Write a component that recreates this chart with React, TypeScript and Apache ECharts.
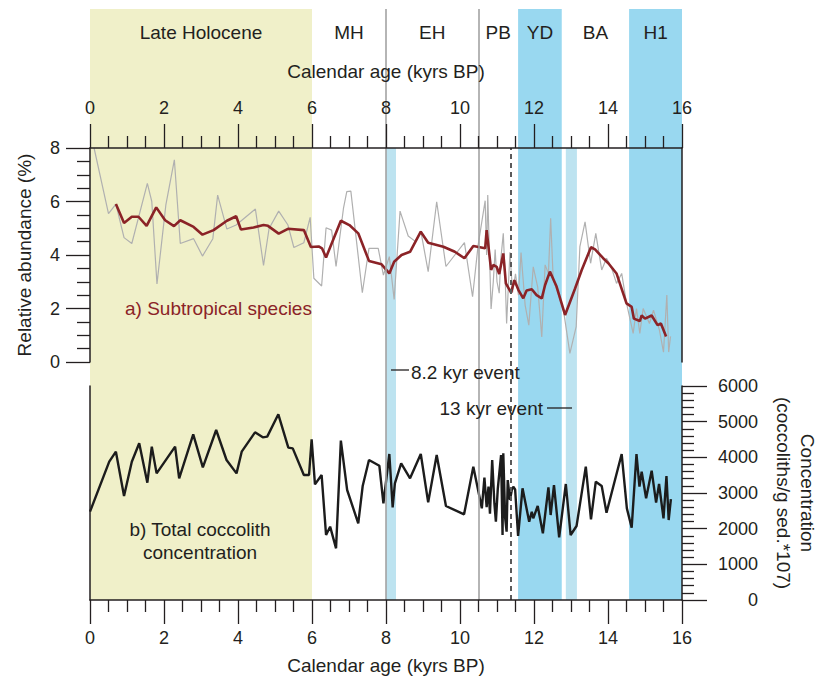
import React, { useEffect, useRef } from "react";
import * as echarts from "echarts";

// ---------- data ----------
// a) Subtropical species, raw relative abundance (%)
const rawAge = [
  0.11, 0.5, 0.7, 0.92, 1.13, 1.55, 1.67, 1.81, 2.05, 2.28, 2.44, 2.8, 3.04, 3.32, 3.45, 3.7, 3.95, 4.47, 4.69, 4.84,
  5.1, 5.35, 5.51, 5.78, 5.95, 6.05, 6.26, 6.38, 6.53, 6.65, 6.85, 6.94, 7.05, 7.36, 7.54, 7.79, 7.93, 8.09, 8.22,
  8.38, 8.6, 8.8, 8.94, 9.14, 9.37, 9.62, 9.86, 10.12, 10.34, 10.49, 10.68, 10.72, 10.75, 10.84, 10.9, 10.95, 11.0,
  11.06, 11.1, 11.17, 11.22, 11.26, 11.35, 11.42, 11.5, 11.58, 11.65, 11.76, 11.86, 11.98, 12.1, 12.21, 12.3, 12.39,
  12.45, 12.52, 12.62, 12.8, 12.97, 13.14, 13.24, 13.38, 13.53, 13.67, 13.83, 13.96, 14.1, 14.23, 14.37, 14.5, 14.68,
  14.77, 14.86, 14.95, 15.12, 15.23, 15.39, 15.5, 15.59, 15.64, 15.69,
];
const rawVal = [
  8.0, 5.55, 5.9, 4.65, 4.43, 6.68, 6.0, 2.92, 5.87, 7.56, 4.43, 4.61, 3.96, 4.61, 6.24, 4.97, 5.12, 5.72, 3.61, 4.99,
  5.64, 5.12, 4.28, 4.46, 5.41, 3.13, 2.84, 5.02, 4.93, 3.57, 5.74, 6.37, 6.39, 2.59, 4.25, 4.25, 3.25, 3.94, 2.34,
  5.64, 4.71, 4.5, 4.9, 3.38, 5.99, 3.57, 4.0, 4.46, 2.44, 4.37, 6.03, 4.0, 6.24, 1.98, 3.0, 4.2, 3.0,
  2.57, 3.8, 4.81, 3.2, 1.44, 4.1, 2.6, 3.3, 2.5, 4.09, 2.13, 1.38, 3.56, 2.8, 0.94, 3.63, 3.31,
  5.37, 3.06, 2.7, 1.9, 0.32, 1.32, 4.31, 5.24, 3.69, 4.81, 3.44, 3.88, 3.5, 2.94, 3.31, 2.2, 1.07,
  2.0, 1.07, 2.0, 1.44, 1.94, 1.19, 0.37, 2.5, 0.37, 0.96,
];

// a) Subtropical species, smoothed (%)
const smoothAge = [
  0.7, 0.92, 1.13, 1.31, 1.53, 1.79, 2.03, 2.27, 2.44, 2.8, 3.04, 3.34, 3.7, 3.95, 4.08, 4.42, 4.69, 4.81, 5.1, 5.35,
  5.78, 5.97, 6.18, 6.27, 6.38, 6.78, 7.01, 7.25, 7.54, 7.88, 8.09, 8.22, 8.42, 8.65, 8.94, 9.14, 9.55, 9.86, 10.12,
  10.36, 10.68, 10.72, 10.84, 10.9, 10.99, 11.06, 11.17, 11.24, 11.38, 11.47, 11.58, 11.71, 11.8, 11.94, 12.07, 12.21,
  12.3, 12.43, 12.61, 12.84, 13.11, 13.29, 13.54, 13.65, 13.87, 14.01, 14.23, 14.5, 14.64, 14.7, 14.86, 14.91, 15.0,
  15.18, 15.34, 15.43, 15.57,
];
const smoothVal = [
  5.91, 5.2, 5.43, 5.43, 5.09, 5.78, 5.3, 5.08, 5.3, 5.05, 4.76, 4.93, 5.28, 5.45, 4.95, 5.03, 5.12, 5.09, 4.8, 4.98,
  4.93, 4.3, 4.32, 4.25, 3.91, 5.28, 5.12, 4.81, 3.78, 3.65, 3.31, 3.75, 4.0, 4.12, 4.87, 4.46, 4.31, 4.12, 3.88,
  4.34, 4.25, 4.93, 3.44, 3.63, 3.56, 3.29, 4.06, 2.94, 2.59, 3.06, 2.69, 2.38, 2.67, 2.72, 2.5, 2.38,
  2.88, 3.38, 2.82, 1.76, 2.75, 3.44, 4.29, 4.21, 3.88, 3.69, 3.31, 2.19, 2.06, 1.62, 1.53, 1.74, 1.62,
  1.74, 1.38, 1.44, 0.95,
];

// b) Total coccolith concentration (coccoliths/g sed. *10^7)
const concAge = [
  0.0, 0.52, 0.7, 0.92, 1.13, 1.33, 1.55, 1.67, 1.8, 2.3, 2.41, 2.79, 3.05, 3.41, 3.69, 3.96, 4.1, 4.46, 4.67, 4.79,
  5.09, 5.36, 5.48, 5.78, 5.92, 5.99, 6.08, 6.26, 6.38, 6.49, 6.65, 6.78, 6.95, 7.25, 7.37, 7.54, 7.82, 7.93, 8.09,
  8.18, 8.24, 8.41, 8.65, 8.94, 9.14, 9.37, 9.62, 10.11, 10.36, 10.59, 10.66, 10.72, 10.77, 10.81, 10.87, 10.93,
  10.97, 11.02, 11.11, 11.15, 11.17, 11.22, 11.26, 11.29, 11.35, 11.4, 11.44, 11.49, 11.57, 11.69, 11.87, 11.94,
  11.98, 12.1, 12.24, 12.39, 12.45, 12.54, 12.68, 12.86, 12.99, 13.15, 13.4, 13.54, 13.67, 13.83, 13.96, 14.37,
  14.51, 14.64, 14.77, 14.85, 14.91, 15.03, 15.18, 15.3, 15.38, 15.5, 15.58, 15.64, 15.7,
];
const concVal = [
  2476, 3878, 4159, 2916, 3878, 4393, 3290, 4299, 3551, 4299, 3411, 4645, 3720, 4766, 3925, 3551, 4159, 4701, 4561, 4580,
  5206, 4271, 4252, 3505, 3505, 4505, 3243, 3505, 1822, 2056, 1449, 4467, 3084, 2150, 3196, 3925, 3766, 2710, 4093,
  2598, 3271, 3832, 3411, 4093, 2738, 4065, 2636, 2402, 3738, 2570, 3430, 2600, 3177, 2420, 3925, 2700,
  2196, 3100, 4065, 1822, 4112, 2300, 1915, 3364, 2804, 3084, 3177, 3100, 1800, 3131, 2196, 2476,
  2289, 2636, 1869, 3159, 2383, 3224, 1757, 3252, 1822, 2074, 3738, 2261, 3317, 3196, 2448, 4093,
  2570, 2028, 4093, 3177, 3598, 2851, 3626, 2729, 3252, 2289, 3476, 2242, 2831,
];

// climate periods (kyrs BP)
const periodNames = ["Late Holocene", "MH", "EH", "PB", "YD", "BA", "H1"];
const periodStart = [0, 6, 8, 10.5, 11.57, 12.75, 14.57];
const periodEnd = [6, 8, 10.5, 11.57, 12.75, 14.57, 16];

// short cold events (kyrs BP)
const eventStart = [8.0, 12.86];
const eventEnd = [8.27, 13.16];
const boundaryAges = [8, 10.5];
const event13Age = [11.37];

// ---------- styles ----------
const INK = "#231f20";
const FONT = '"Liberation Sans", Arial, Helvetica, sans-serif';
const periodFill: Record<string, string> = {
  "Late Holocene": "#f0f0c9",
  YD: "#99d8f0",
  H1: "#99d8f0",
};
const EVENT_FILL = "#bde3f0";

export default function App() {
  const ref = useRef<HTMLDivElement>(null);

  useEffect(() => {
    if (!ref.current) return;
    const chart = echarts.init(ref.current, undefined, { renderer: "svg" });

    const tickLabel = { color: INK, fontSize: 18, fontFamily: FONT };
    const lineOnly = (gridIndex: number, position: string) => ({
      gridIndex,
      type: "value",
      position,
      min: 0,
      max: 1,
      axisLine: { show: true, onZero: false, lineStyle: { color: INK, width: 1.5 } },
      axisTick: { show: false },
      axisLabel: { show: false },
      splitLine: { show: false },
      z: 5,
    });
    const ageAxis = (gridIndex: number, position: string, margin: number) => ({
      gridIndex,
      type: "value",
      position,
      min: 0,
      max: 16,
      interval: 2,
      axisLine: { show: true, onZero: false, lineStyle: { color: INK, width: 1.5 } },
      axisTick: { show: true, inside: false, length: 24, lineStyle: { color: INK, width: 1.3 } },
      minorTick: { show: true, splitNumber: 4, length: 12, lineStyle: { color: INK, width: 1.3 } },
      axisLabel: { ...tickLabel, margin, showMinLabel: true, showMaxLabel: true },
      splitLine: { show: false },
      minorSplitLine: { show: false },
      z: 5,
    });
    const hidden = (gridIndex: number, max: number) => ({
      gridIndex,
      type: "value",
      min: 0,
      max,
      show: false,
    });

    const txt = (text: string, x: number, y: number, extra: any = {}) => ({
      type: "text",
      x,
      y,
      z: 20,
      silent: true,
      ...extra,
      style: {
        text,
        font: `19px ${FONT}`,
        fill: INK,
        align: "center",
        verticalAlign: "middle",
        ...(extra.style || {}),
      },
    });

    const option: any = {
      animation: false,
      grid: [
        { left: 90, top: 148, width: 592, height: 214, outerBoundsMode: "none" },
        { left: 90, top: 386, width: 592, height: 214, outerBoundsMode: "none" },
        { left: 90, top: 9, width: 592, height: 591, outerBoundsMode: "none" },
        { left: 90, top: 148, width: 592, height: 452, outerBoundsMode: "none" },
      ],
      xAxis: [ageAxis(0, "top", 31), ageAxis(1, "bottom", 29), hidden(2, 16), hidden(3, 16)],
      yAxis: [
        {
          gridIndex: 0,
          type: "value",
          position: "left",
          min: 0,
          max: 8,
          interval: 2,
          axisLine: { show: true, onZero: false, lineStyle: { color: INK, width: 1.5 } },
          axisTick: { show: true, inside: false, length: 24, lineStyle: { color: INK, width: 1.3 } },
          minorTick: { show: true, splitNumber: 4, length: 13, lineStyle: { color: INK, width: 1.3 } },
          axisLabel: { ...tickLabel, margin: 30, showMinLabel: true, showMaxLabel: true },
          splitLine: { show: false },
          z: 5,
        },
        lineOnly(0, "right"),
        {
          gridIndex: 1,
          type: "value",
          position: "right",
          min: 0,
          max: 6000,
          interval: 1000,
          axisLine: { show: true, onZero: false, lineStyle: { color: INK, width: 1.5 } },
          axisTick: { show: true, inside: false, length: 25, lineStyle: { color: INK, width: 1.3 } },
          minorTick: { show: true, splitNumber: 5, length: 12, lineStyle: { color: INK, width: 1.3 } },
          axisLabel: {
            ...tickLabel,
            margin: 76,
            align: "right",
            showMinLabel: true,
            showMaxLabel: true,
            formatter: (v: number) => String(v),
          },
          splitLine: { show: false },
          z: 5,
        },
        lineOnly(1, "left"),
        hidden(2, 1),
        hidden(3, 1),
      ],
      series: [
        {
          type: "line",
          xAxisIndex: 2,
          yAxisIndex: 4,
          data: [],
          z: 1,
          silent: true,
          markArea: {
            silent: true,
            label: {
              show: true,
              position: "insideTop",
              distance: 14,
              color: INK,
              fontSize: 19,
              fontFamily: FONT,
            },
            data: periodNames.map((n, i) => [
              {
                name: n,
                xAxis: periodStart[i],
                itemStyle: { color: periodFill[n] || "rgba(0,0,0,0)" },
              },
              { xAxis: periodEnd[i] },
            ]),
          },
        },
        {
          type: "line",
          xAxisIndex: 3,
          yAxisIndex: 5,
          data: [],
          z: 1,
          silent: true,
          markArea: {
            silent: true,
            label: { show: false },
            itemStyle: { color: EVENT_FILL },
            data: eventStart.map((s, i) => [{ xAxis: s }, { xAxis: eventEnd[i] }]),
          },
        },
        {
          type: "line",
          xAxisIndex: 2,
          yAxisIndex: 4,
          data: [],
          z: 2,
          silent: true,
          markLine: {
            silent: true,
            symbol: ["none", "none"],
            label: { show: false },
            lineStyle: { color: "#a3a3a3", width: 1.6, type: "solid" },
            data: boundaryAges.map((a) => ({ xAxis: a })),
          },
        },
        {
          type: "line",
          xAxisIndex: 3,
          yAxisIndex: 5,
          data: [],
          z: 2,
          silent: true,
          markLine: {
            silent: true,
            symbol: ["none", "none"],
            label: { show: false },
            lineStyle: { color: "#5a5a5a", width: 2, type: [5, 4] },
            data: event13Age.map((a) => ({ xAxis: a })),
          },
        },
        {
          type: "line",
          xAxisIndex: 0,
          yAxisIndex: 0,
          data: rawAge.map((a, i) => [a, rawVal[i]]),
          showSymbol: false,
          lineStyle: { color: "#b0b0b0", width: 1.2 },
          z: 3,
          silent: true,
        },
        {
          type: "line",
          xAxisIndex: 0,
          yAxisIndex: 0,
          data: smoothAge.map((a, i) => [a, smoothVal[i]]),
          showSymbol: false,
          lineStyle: { color: "#8b2327", width: 2.6 },
          z: 4,
          silent: true,
        },
        {
          type: "line",
          xAxisIndex: 1,
          yAxisIndex: 2,
          data: concAge.map((a, i) => [a, concVal[i]]),
          showSymbol: false,
          lineStyle: { color: "#1c1c1c", width: 2.4 },
          z: 3,
          silent: true,
        },
      ],
      graphic: [
        txt("Calendar age (kyrs BP)", 386, 71),
        txt("Calendar age (kyrs BP)", 386, 665),
        txt("Relative abundance (%)", 24, 255, { rotation: Math.PI / 2 }),
        txt("Concentration\n(coccoliths/g sed.*107)", 795, 493, {
          rotation: -Math.PI / 2,
          style: { lineHeight: 24 },
        }),
        txt("a) Subtropical species", 125, 308, { style: { align: "left", fill: "#8b2327" } }),
        txt("b) Total coccolith\nconcentration", 200, 541, { style: { lineHeight: 23 } }),
        {
          type: "line",
          z: 20,
          silent: true,
          shape: { x1: 391, y1: 370, x2: 409, y2: 370 },
          style: { stroke: INK, lineWidth: 1.3 },
        },
        txt("8.2 kyr event", 411, 372, { style: { align: "left" } }),
        txt("13 kyr event", 543, 408, { style: { align: "right" } }),
        {
          type: "line",
          z: 20,
          silent: true,
          shape: { x1: 547, y1: 408, x2: 572, y2: 408 },
          style: { stroke: INK, lineWidth: 1.3 },
        },
      ],
    };

    chart.setOption(option);
    return () => chart.dispose();
  }, []);

  return (
    <div
      ref={ref}
      style={{ position: "fixed", left: 0, top: 0, width: 819, height: 677, background: "#ffffff" }}
    />
  );
}
